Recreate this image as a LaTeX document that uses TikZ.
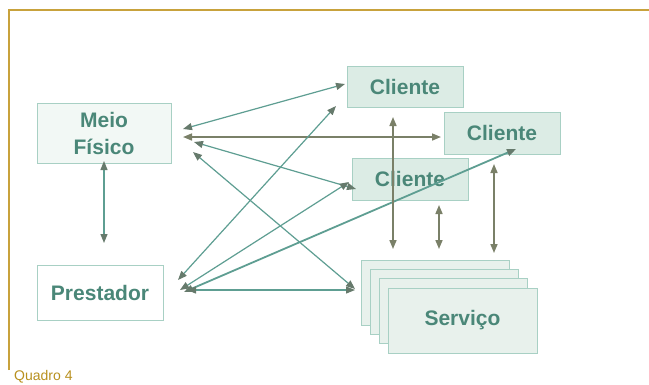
\documentclass[tikz,border=0pt]{standalone}
\usepackage{fontspec}
\setmainfont{Liberation Sans}
\usetikzlibrary{arrows.meta}
\definecolor{gold}{HTML}{C8A23C}
\definecolor{goldtext}{HTML}{B8901E}
\definecolor{tealline}{HTML}{5E9E92}
\definecolor{oliveline}{HTML}{7A8068}
\definecolor{tiptone}{HTML}{667A6C}
\definecolor{boxedge}{HTML}{A8D0C4}
\definecolor{clientfill}{HTML}{DCECE5}
\definecolor{meiofill}{HTML}{F2F8F5}
\definecolor{servfill}{HTML}{E8F1EC}
\definecolor{labeltext}{HTML}{4A8778}
\tikzset{
  boxnode/.style={draw=boxedge, line width=1pt, rectangle, inner sep=0pt,
    font=\fontsize{21}{27}\selectfont\bfseries, text=labeltext, align=center},
  tealarrow/.style={draw=tealline, line width=1.2pt,
    {Triangle[length=9pt,width=7pt,color=tiptone]}-{Triangle[length=9pt,width=7pt,color=tiptone]}},
  olivearrow/.style={draw=oliveline, line width=1.6pt,
    {Triangle[length=9pt,width=7pt,color=oliveline]}-{Triangle[length=9pt,width=7pt,color=oliveline]}}
}
\begin{document}
\begin{tikzpicture}[x=1pt,y=-1pt]
\useasboundingbox (0,0) rectangle (649,384);
\fill[white] (0,0) rectangle (649,384);
% frame
\draw[gold, line width=1.5pt] (9,370) -- (9,10) -- (649,10);
\node[anchor=base west, inner sep=0pt, text=goldtext, font=\fontsize{14}{16}\selectfont] (quadro) at (14,380) {Quadro 4};

% boxes
\node[boxnode, fill=meiofill, minimum width=134pt, minimum height=60pt] (meio) at (104,133) {Meio\\Físico};
\node[boxnode, fill=white, minimum width=126pt, minimum height=55pt] (prest) at (100,292.5) {Prestador};
\node[boxnode, fill=clientfill, minimum width=116pt, minimum height=41pt] (c1) at (405,86.5) {Cliente};
\node[boxnode, fill=clientfill, minimum width=116pt, minimum height=42pt] (c2) at (502,133) {Cliente};
\node[boxnode, fill=clientfill, minimum width=116pt, minimum height=42pt] (c3) at (410,179) {Cliente};
\node[boxnode, fill=servfill, minimum width=148pt, minimum height=65pt] (s1) at (435,292.5) {};
\node[boxnode, fill=servfill, minimum width=148pt, minimum height=65pt] (s2) at (444,301.5) {};
\node[boxnode, fill=servfill, minimum width=148pt, minimum height=65pt] (s3) at (453,310.5) {};
\node[boxnode, fill=servfill, minimum width=149pt, minimum height=65pt] (serv) at (462.5,320.5) {Serviço};

% connector ends
\coordinate (mA) at (183,129);  \coordinate (c1A) at (345,84);
\coordinate (mB) at (183,137);  \coordinate (c2A) at (441,137);
\coordinate (mC) at (194,142);  \coordinate (c3A) at (356,189);
\coordinate (mD) at (193,152);  \coordinate (sA) at (355,289);
\coordinate (pA) at (178,280);  \coordinate (c1B) at (336,106);
\coordinate (pB) at (180,290);  \coordinate (c3B) at (349,182);
\coordinate (pC) at (184,292);  \coordinate (c2B) at (516,149);
\coordinate (pD) at (187,290);  \coordinate (sB) at (355,290);
\coordinate (mE) at (104,161);  \coordinate (pE) at (104,243);
\coordinate (c1C) at (393,117); \coordinate (sC) at (393,249);
\coordinate (c3C) at (439,205); \coordinate (sD) at (439,249);
\coordinate (c2C) at (494,164); \coordinate (sE) at (494,253);

% connectors
\draw[tealarrow] (mA) -- (c1A);
\draw[olivearrow] (mB) -- (c2A);
\draw[tealarrow] (mC) -- (c3A);
\draw[tealarrow] (mD) -- (sA);
\draw[tealarrow] (pA) -- (c1B);
\draw[tealarrow] (pB) -- (c3B);
\draw[tealarrow, line width=1.8pt] (pC) -- (c2B);
\draw[tealarrow] (pD) -- (sB);
\draw[tealarrow] (mE) -- (pE);
\draw[olivearrow] (c1C) -- (sC);
\draw[olivearrow] (c3C) -- (sD);
\draw[olivearrow] (c2C) -- (sE);
\end{tikzpicture}
\end{document}
